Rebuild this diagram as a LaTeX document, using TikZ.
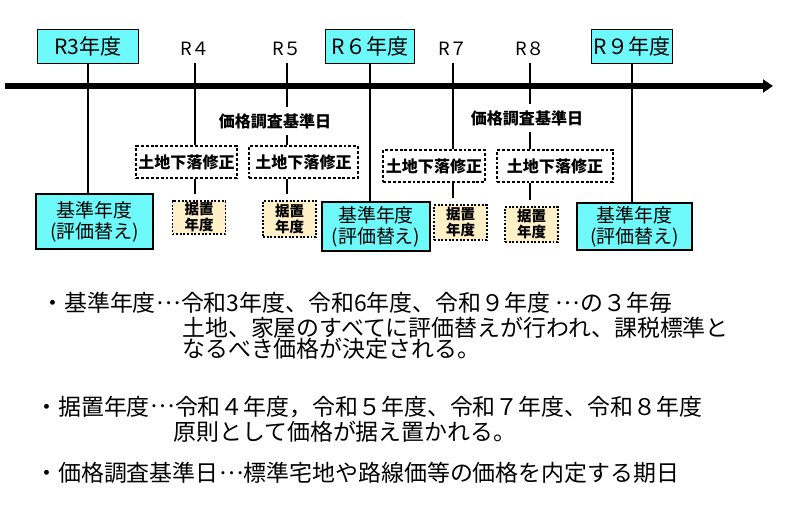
\documentclass[tikz,border=0pt]{standalone}
\usepackage{fontspec}
\setmainfont{Noto Sans CJK JP}
\usetikzlibrary{positioning}
\usetikzlibrary{arrows.meta}
\definecolor{yearcyan}{RGB}{110,250,250}
\definecolor{keepbeige}{RGB}{255,240,200}
\tikzset{
    yearbox/.style = {rectangle, draw=black, line width=0.7pt, fill=yearcyan, inner sep=0pt, minimum height=0.85cm, font=\fontsize{15}{18}\selectfont},
    basebox/.style = {rectangle, draw=black, line width=0.8pt, fill=yearcyan, inner sep=0pt, align=center, font=\fontsize{13.5}{15}\selectfont},
    landbox/.style = {rectangle, draw=black, line width=2.1pt, dash pattern=on 2.1pt off 1.4pt, fill=white, inner sep=0pt, minimum height=0.8cm, font=\fontsize{11.4}{13}\selectfont\bfseries},
    keepbox/.style = {rectangle, draw=black, line width=1.4pt, dash pattern=on 1.4pt off 1.2pt, fill=keepbeige, align=center, inner sep=0pt, minimum width=1.325cm, font=\fontsize{10.3}{11.4}\selectfont\bfseries},
    yearlabel/.style = {inner sep=0pt, minimum height=0.7cm, font=\fontsize{13}{15}\selectfont},
    datelabel/.style = {inner sep=0pt, minimum height=0.675cm, font=\fontsize{11.4}{13}\selectfont\bfseries},
    notetext/.style = {anchor=west, inner sep=0pt, font=\fontsize{16.3}{20}\selectfont},
    axisline/.style = {line width=3.6pt, -{Triangle[length=0.25cm, width=0.32cm]}},
    tickn/.style = {line width=1.4pt},
    tickb/.style = {line width=2.1pt},
    tickk/.style = {line width=1.4pt, shorten >=0.15cm}
}
\newcommand{\Ell}{\makebox[1.1em]{\raisebox{0.33em}{…}}}

\begin{document}
\begin{tikzpicture}
\useasboundingbox (0,0) rectangle (19.65,-12.675);
% time axis
\coordinate (start) at (0.125, -2.15);
\coordinate (end) at (19.325, -2.15);
\draw[axisline] (start) -- (end);
% base years
\node[yearbox, minimum width=2.525cm] at (2.2, -1.15) (r3) {R3年度};
\node[yearbox, minimum width=2.225cm] at (9.25, -1.15) (r6) {R６年度};
\node[yearbox, minimum width=2.025cm] at (15.8, -1.15) (r9) {R９年度};
\node[basebox, minimum width=2.925cm, minimum height=1.375cm] at (2.3625, -5.5375) (b3) {基準年度\\(評価替え)};
\node[basebox, minimum width=2.7cm, minimum height=1.225cm] at (9.4, -5.6625) (b6) {基準年度\\(評価替え)};
\node[basebox, minimum width=2.875cm, minimum height=1.175cm] at (15.8625, -5.6625) (b9) {基準年度\\(評価替え)};
% other years
\node[yearlabel] at (4.875, -1.225) (r4) {R４};
\node[yearlabel] at (7.175, -1.225) (r5) {R５};
\node[yearlabel] at (11.325, -1.225) (r7) {R７};
\node[yearlabel] at (13.25, -1.225) (r8) {R８};
\node[datelabel] at (6.875, -3.025) (d5) {価格調査基準日};
\node[datelabel] at (13.175, -2.95) (d8) {価格調査基準日};
\node[landbox, minimum width=2.525cm] at (4.6625, -4.05) (l4) {土地下落修正};
\node[landbox, minimum width=2.725cm] at (7.5875, -4.05) (l5) {土地下落修正};
\node[landbox, minimum width=2.55cm] at (10.85, -4.15) (l7) {土地下落修正};
\node[landbox, minimum width=2.9cm] at (13.875, -4.15) (l8) {土地下落修正};
\node[keepbox, minimum height=0.825cm] at (4.975, -5.4375) (k4) {据置\\年度};
\node[keepbox, minimum height=0.9cm] at (7.2375, -5.475) (k5) {据置\\年度};
\node[keepbox, minimum height=0.875cm] at (11.5125, -5.5625) (k7) {据置\\年度};
\node[keepbox, minimum height=0.875cm] at (13.2875, -5.6125) (k8) {据置\\年度};
%
\draw[tickb] (r3.south) -- (r3.south |- b3.north);
\draw[tickb] (r6.south) -- (r6.south |- b6.north);
\draw[tickb] (r9.south) -- (r9.south |- b9.north);
\draw[tickn] (r4.south) -- (r4.south |- l4.north);
\draw[tickn] (r7.south) -- (r7.south |- l7.north);
\draw[tickn] (r5.south) -- (r5.south |- d5.north);
\draw[tickn] (r5 |- d5.south) -- (r5 |- l5.north);
\draw[tickn] (r8.south) -- (r8.south |- d8.north);
\draw[tickn] (r8 |- d8.south) -- (r8 |- l8.north);
\draw[tickk] (r4 |- l4.south) -- (r4 |- k4.north);
\draw[tickk] (r5 |- l5.south) -- (r5 |- k5.north);
\draw[tickk] (r7 |- l7.south) -- (r7 |- k7.north);
\draw[tickk] (r8 |- l8.south) -- (r8 |- k8.north);
% notes
\node[notetext] at (1.025, -7.575) (n1) {・基準年度\Ell 令和3年度、令和6年度、令和９年度 \Ell の３年毎};
\node[notetext] at (4.55, -8.2) (n2) {土地、家屋のすべてに評価替えが行われ、課税標準と};
\node[notetext] at (4.55, -8.725) (n3) {なるべき価格が決定される。};
\node[notetext] at (0.875, -10.175) (n4) {・据置年度\Ell 令和４年度，令和５年度、令和７年度、令和８年度};
\node[notetext] at (4.325, -10.8) (n5) {原則として価格が据え置かれる。};
\node[notetext] at (0.875, -11.825) (n6) {・価格調査基準日\Ell 標準宅地や路線価等の価格を内定する期日};
\end{tikzpicture}
\end{document}
